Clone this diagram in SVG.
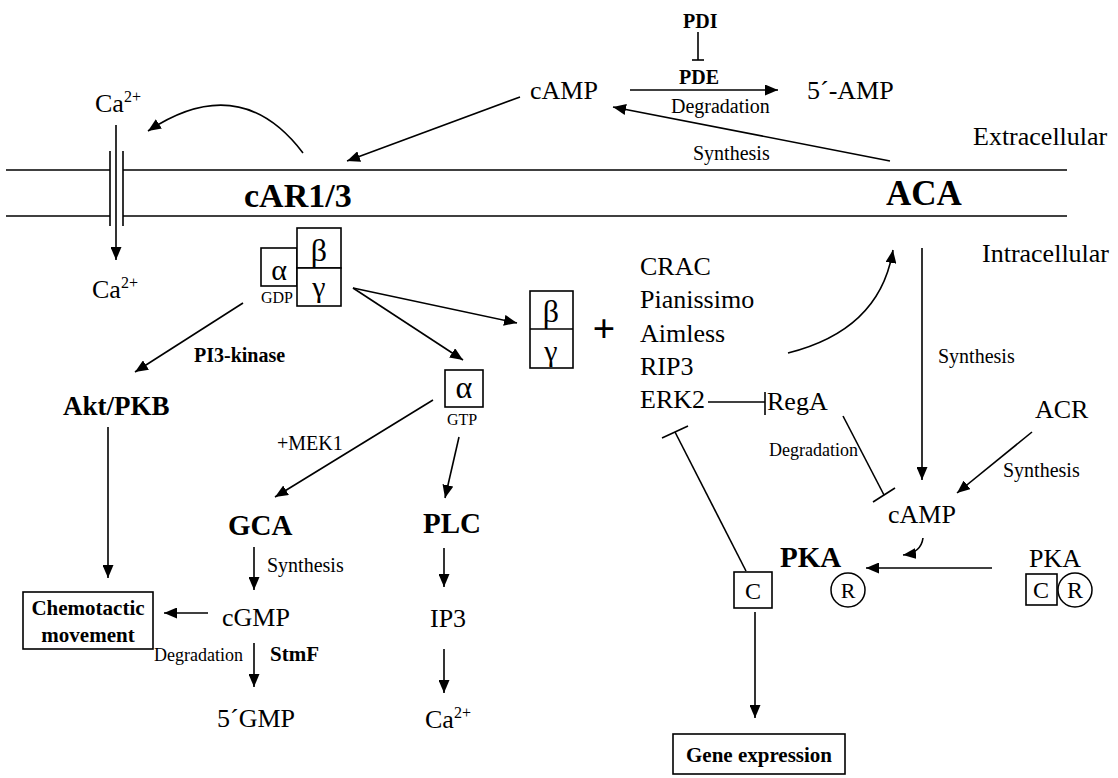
<svg xmlns="http://www.w3.org/2000/svg" width="1118" height="778" viewBox="0 0 1118 778">
<defs>
<style>
text{font-family:"Liberation Serif","Times New Roman",serif;fill:#000}
.l{font-size:26px}
.s{font-size:20px}
.xs{font-size:18px}
.t{font-size:16px}
.b{font-weight:bold}
.ln{stroke:#000;stroke-width:1.6;fill:none}
.bx{stroke:#000;stroke-width:1.6;fill:#fff}
.ar{stroke:#000;stroke-width:1.6;fill:none;marker-end:url(#ah)}
</style>
<marker id="ah" markerUnits="userSpaceOnUse" markerWidth="13" markerHeight="11" refX="13" refY="5.5" orient="auto"><path d="M0,0 L13,5.5 L0,11 z" fill="#000"/></marker>
</defs>
<rect width="1118" height="778" fill="#fff"/>

<g id="membrane">
<line class="ln" x1="6" y1="170" x2="110" y2="170"/>
<line class="ln" x1="123" y1="170" x2="1067" y2="170"/>
<line class="ln" x1="6" y1="216" x2="110" y2="216"/>
<line class="ln" x1="123" y1="216" x2="1067" y2="216"/>
<line class="ln" x1="110" y1="151" x2="110" y2="226"/>
<line class="ln" x1="123" y1="151" x2="123" y2="226"/>
<text class="l" x="973" y="145">Extracellular</text>
<text class="l" x="982" y="262">Intracellular</text>
</g>

<g id="ca-top"><text class="l" x="95" y="112">Ca<tspan font-size="16" dy="-10">2+</tspan></text></g>
<g id="ca-in"><text class="l" x="92" y="298">Ca<tspan font-size="16" dy="-10">2+</tspan></text></g>
<g id="car"><text class="b" font-size="34" x="244" y="207">cAR1/3</text></g>
<g id="aca"><text class="b" font-size="35" x="886" y="205">ACA</text></g>
<g id="camp-ext"><text class="l" x="530" y="99">cAMP</text></g>
<g id="pdi"><text class="s b" x="683" y="28">PDI</text></g>
<g id="pde"><text class="s b" x="679" y="84">PDE</text></g>
<g id="amp5"><text class="l" x="807" y="99">5´-AMP</text></g>

<g id="gprotein">
<rect class="bx" x="261" y="248" width="36" height="38"/>
<rect class="bx" x="297" y="228" width="44" height="40"/>
<rect class="bx" x="297" y="268" width="44" height="38"/>
<text font-size="30" x="279" y="280" text-anchor="middle">α</text>
<text font-size="32" x="319" y="261" text-anchor="middle">β</text>
<text font-size="30" x="319" y="297" text-anchor="middle">γ</text>
<text class="t" x="261" y="303">GDP</text>
</g>

<g id="betagamma">
<rect class="bx" x="530" y="291" width="43" height="77"/>
<line class="ln" x1="530" y1="329" x2="573" y2="329"/>
<text font-size="32" x="551" y="322" text-anchor="middle">β</text>
<text font-size="30" x="551" y="361" text-anchor="middle">γ</text>
</g>
<g id="plus"><text class="b" font-size="40" x="604" y="342" text-anchor="middle">+</text></g>

<g id="effectors">
<text class="l" x="640" y="275">CRAC</text>
<text class="l" x="640" y="308">Pianissimo</text>
<text class="l" x="640" y="342">Aimless</text>
<text class="l" x="640" y="375">RIP3</text>
<text class="l" x="640" y="408">ERK2</text>
</g>
<g id="rega"><text class="l" x="767" y="410">RegA</text></g>

<g id="alpha-gtp">
<rect class="bx" x="445" y="370" width="38" height="37"/>
<text font-size="32" x="464" y="398" text-anchor="middle">α</text>
<text class="t" x="447" y="425">GTP</text>
</g>

<g id="akt"><text class="b" font-size="27" x="63" y="415">Akt/PKB</text></g>
<g id="gca"><text class="b" font-size="29" x="228" y="535">GCA</text></g>
<g id="plc"><text class="b" font-size="29" x="423" y="533">PLC</text></g>
<g id="chemo">
<rect class="bx" x="23" y="592" width="130" height="57"/>
<text class="b" font-size="21" x="88" y="615" text-anchor="middle">Chemotactic</text>
<text class="b" font-size="21" x="88" y="642" text-anchor="middle">movement</text>
</g>
<g id="cgmp"><text class="l" x="222" y="626">cGMP</text></g>
<g id="gmp5"><text class="l" x="217" y="727">5´GMP</text></g>
<g id="ip3"><text class="l" x="430" y="627">IP3</text></g>
<g id="ca-ip3"><text class="l" x="425" y="728">Ca<tspan font-size="16" dy="-10">2+</tspan></text></g>

<g id="acr"><text class="l" x="1035" y="418">ACR</text></g>
<g id="camp-in"><text class="l" x="888" y="523">cAMP</text></g>
<g id="pka">
<text class="b" font-size="29" x="780" y="567">PKA</text>
<circle cx="848" cy="590" r="17" fill="#fff" stroke="#000" stroke-width="1.5"/>
<text font-size="22" x="848" y="598" text-anchor="middle">R</text>
</g>
<g id="pka-c">
<rect class="bx" x="734" y="572" width="38" height="36"/>
<text font-size="24" x="753" y="599" text-anchor="middle">C</text>
</g>
<g id="pka-holo">
<text class="l" x="1029" y="567">PKA</text>
<rect class="bx" x="1026" y="574" width="31" height="31"/>
<text font-size="24" x="1041" y="598" text-anchor="middle">C</text>
<circle cx="1075" cy="590" r="17" fill="#fff" stroke="#000" stroke-width="1.5"/>
<text font-size="24" x="1075" y="598" text-anchor="middle">R</text>
</g>
<g id="gene">
<rect class="bx" x="673" y="734" width="172" height="40"/>
<text class="b" font-size="21" x="759" y="762" text-anchor="middle">Gene expression</text>
</g>

<g id="connectors">
<line class="ar" x1="116" y1="125" x2="116" y2="260"/>
<path class="ar" d="M303,153 Q240,70 148,131"/>
<line class="ar" x1="520" y1="97" x2="347" y2="161"/>
<line class="ln" x1="698" y1="32" x2="698" y2="60"/>
<line class="ln" x1="692" y1="60" x2="704" y2="60"/>
<line class="ar" x1="630" y1="90" x2="778" y2="90"/>
<text class="s" x="671" y="113" font-size="21">Degradation</text>
<line class="ar" x1="890" y1="161" x2="613" y2="107"/>
<text class="s" x="693" y="160">Synthesis</text>

<line class="ar" x1="353" y1="288" x2="517" y2="323"/>
<line class="ar" x1="353" y1="288" x2="463" y2="360"/>
<line class="ar" x1="243" y1="303" x2="135" y2="372"/>
<text class="s b" x="194" y="362">PI3-kinase</text>
<line class="ar" x1="108" y1="427" x2="108" y2="578"/>
<line class="ar" x1="433" y1="400" x2="275" y2="497"/>
<text class="s" x="277" y="450">+MEK1</text>
<line class="ar" x1="459" y1="437" x2="445" y2="498"/>
<line class="ar" x1="254" y1="547" x2="254" y2="590"/>
<text class="s" x="267" y="572">Synthesis</text>
<line class="ar" x1="208" y1="613" x2="164" y2="613"/>
<line class="ar" x1="254" y1="643" x2="254" y2="687"/>
<text class="xs" x="154" y="661">Degradation</text>
<text class="b" font-size="21" x="270" y="661">StmF</text>
<line class="ar" x1="444" y1="548" x2="444" y2="587"/>
<line class="ar" x1="444" y1="649" x2="444" y2="693"/>

<line class="ln" x1="708" y1="402" x2="765" y2="402"/>
<line class="ln" x1="765" y1="392" x2="765" y2="415"/>
<path class="ar" d="M788,353 Q880,330 893,250"/>
<line class="ar" x1="922" y1="248" x2="922" y2="480"/>
<text class="s" x="938" y="363">Synthesis</text>
<line class="ar" x1="1032" y1="432" x2="957" y2="493"/>
<text class="s" x="1003" y="477">Synthesis</text>
<line class="ln" x1="843" y1="416" x2="884" y2="495"/>
<line class="ln" x1="873" y1="502" x2="895" y2="488"/>
<text class="xs" x="769" y="456">Degradation</text>
<path class="ar" d="M923,538 Q921,553 903,555"/>
<line class="ar" x1="992" y1="568" x2="866" y2="568"/>
<line class="ln" x1="746" y1="571" x2="675" y2="432"/>
<line class="ln" x1="662" y1="438" x2="688" y2="426"/>
<line class="ar" x1="755" y1="612" x2="755" y2="718"/>
</g>
</svg>
